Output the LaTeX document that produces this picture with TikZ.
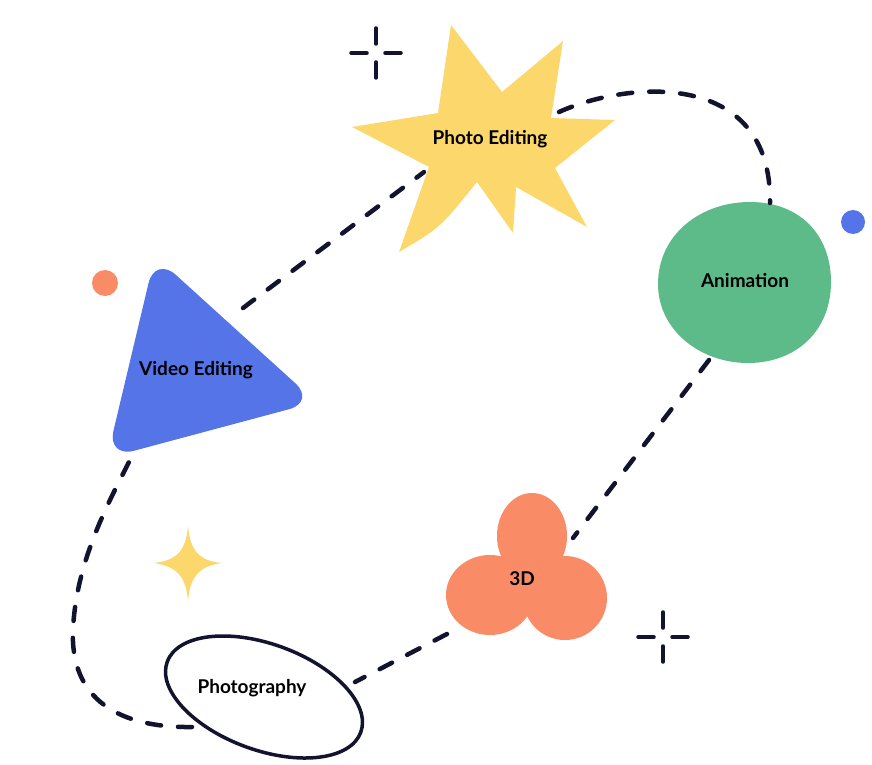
\documentclass[tikz,border=0pt]{standalone}
\usepackage{fontspec}
\setmainfont{Lato}
\definecolor{starY}{HTML}{FCD76B}
\definecolor{triB}{HTML}{5574E8}
\definecolor{blobG}{HTML}{5DBB8A}
\definecolor{petalO}{HTML}{F98B67}
\definecolor{inkD}{HTML}{12132E}
\tikzset{
  link/.style={inkD, line width=4.5pt, line cap=round, dash pattern=on 14pt off 17pt},
  lbl/.style={font=\fontsize{19}{22}\selectfont\bfseries, text=black},
  spark/.style={inkD, line width=3.5pt, line cap=round}
}
\begin{document}
\begin{tikzpicture}[x=1pt,y=-1pt]
        \useasboundingbox (0,0) rectangle (872,765);

        % Photo Editing
        \fill[starY] (451,25) -- (502,92) -- (563,41) -- (551,118) -- (615,120) -- (555,168)
            -- (587,227) -- (516,187) -- (513,233) -- (477,182)
            .. controls (440,228) .. (399,252) -- (429,167) -- (352,127) -- (438,113) -- cycle;
        \node[lbl] (photoedit) at (490,139) {Photo Editing};

        % Video Editing
        \fill[triB, rounded corners=28pt] (155,256) -- (316,402) -- (107,458) -- cycle;
        \node[lbl] (video) at (196,370) {Video Editing};

        % Animation
        \fill[blobG] (750,202) .. controls (800,202) and (831,235) .. (831,282)
            .. controls (831,332) and (795,363) .. (748,363)
            .. controls (700,363) and (658,330) .. (658,284)
            .. controls (658,235) and (700,202) .. cycle;
        \node[lbl] (anim) at (745,281) {Animation};

        % 3D
        \fill[petalO] (532,536) ellipse[x radius=35, y radius=43];
        \fill[petalO] (490,595) ellipse[x radius=44, y radius=40];
        \fill[petalO] (565,598) ellipse[x radius=42, y radius=42];
        \node[lbl] (threed) at (522,579) {3D};

        % Photography
        \draw[inkD, line width=3.5pt, rotate around={-20:(264,697)}] (264,697) ellipse[x radius=103, y radius=53];
        \node[lbl] (photog) at (252,688) {Photography};

        % dots and sparkles
        \fill[petalO] (105,283) circle[radius=13];
        \fill[triB] (853,222) circle[radius=12];
        \fill[starY] (188,526) .. controls (190,549) and (198,561) .. (222,563)
            .. controls (198,566) and (190,578) .. (188,601)
            .. controls (186,578) and (178,566) .. (153,563)
            .. controls (178,561) and (186,549) .. cycle;
        \foreach \cx/\cy in {376/53, 663/637} {
            \draw[spark] (\cx-25,\cy) -- (\cx-9,\cy) (\cx+9,\cy) -- (\cx+25,\cy);
            \draw[spark] (\cx,\cy-25) -- (\cx,\cy-9) (\cx,\cy+9) -- (\cx,\cy+25);
        }

        % dashed loop
        \coordinate (v1) at (243,308);
        \coordinate (p1) at (424,172);
        \coordinate (p2) at (559,112);
        \coordinate (a1) at (770,203);
        \coordinate (a2) at (709,360);
        \coordinate (t1) at (573,538);
        \coordinate (t2) at (447,634);
        \coordinate (g1) at (355,682);
        \coordinate (g2) at (192,727);
        \coordinate (v2) at (132,456);
        \draw[link] (v1) -- (p1);
        \draw[link] (p2) .. controls (630,80) and (772,70) .. (a1);
        \draw[link] (a2) -- (t1);
        \draw[link] (t2) -- (g1);
        \draw[link] (g2) .. controls (120,728) and (70,700) .. (73,630) .. controls (76,560) and (110,500) .. (v2);
    \end{tikzpicture}
\end{document}
